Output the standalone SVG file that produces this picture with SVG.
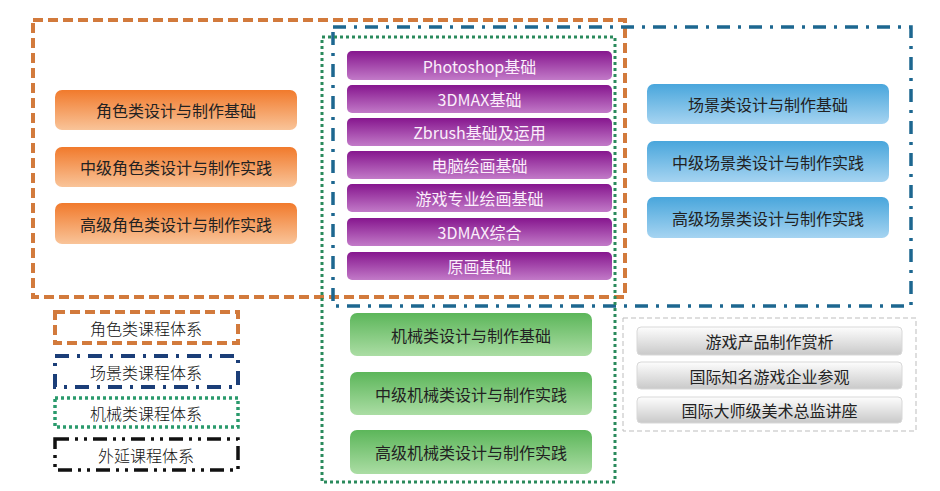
<svg xmlns="http://www.w3.org/2000/svg" width="940" height="491" viewBox="0 0 940 491">
<defs>
<linearGradient id="gOr" x1="0" y1="0" x2="0" y2="1"><stop offset="0" stop-color="#f17a2c"/><stop offset="1" stop-color="#f9c499"/></linearGradient>
<linearGradient id="gPu" x1="0" y1="0" x2="0" y2="1"><stop offset="0" stop-color="#86168e"/><stop offset="1" stop-color="#c27ac8"/></linearGradient>
<linearGradient id="gBl" x1="0" y1="0" x2="0" y2="1"><stop offset="0" stop-color="#49a6dc"/><stop offset="1" stop-color="#a6d4f1"/></linearGradient>
<linearGradient id="gGr" x1="0" y1="0" x2="0" y2="1"><stop offset="0" stop-color="#5cb65a"/><stop offset="1" stop-color="#abdda4"/></linearGradient>
<linearGradient id="gGy" x1="0" y1="0" x2="0" y2="1"><stop offset="0" stop-color="#fdfdfd"/><stop offset="1" stop-color="#c9c9c9"/></linearGradient>
</defs>
<style>
text{font-family:"Noto Sans CJK SC","Liberation Sans",sans-serif;font-size:16px;text-anchor:middle;dominant-baseline:central;fill:#222}
.pt{fill:#fbeefb}
.or{fill:url(#gOr)}
.pu{fill:url(#gPu)}
.bl{fill:url(#gBl)}
.gr{fill:url(#gGr)}
.gy{fill:url(#gGy);stroke:#d8d8d8;stroke-width:1}
.fOr{fill:none;stroke:#d27a3c;stroke-width:4;stroke-dasharray:10 5}
.fBl{fill:none;stroke:#1d6790;stroke-width:3.5;stroke-dasharray:13 8 3 8}
.fGr{fill:none;stroke:#2a8a5c;stroke-width:3;stroke-dasharray:3 3}
.fGy{fill:none;stroke:#bdbdbd;stroke-width:1;stroke-dasharray:5 3}
.lOr{fill:none;stroke:#d27a3c;stroke-width:4;stroke-dasharray:10 5}
.lBl{fill:none;stroke:#1b3e78;stroke-width:4;stroke-dasharray:14 8 3 8}
.lGr{fill:none;stroke:#2a9a6c;stroke-width:3.5;stroke-dasharray:3 3}
.lBk{fill:none;stroke:#111;stroke-width:3.5;stroke-dasharray:14 6 3 6 3 6}
.lt{font-size:16px;fill:#111;font-weight:300}
</style>
<g id="frames">
<rect class="fOr" x="33" y="20" width="592" height="277"/>
<rect class="fBl" x="333" y="27" width="578" height="279"/>
<rect class="fGr" x="322" y="37" width="293" height="445"/>
<rect class="fGy" x="623" y="318" width="293" height="113"/>
</g>
<g id="role">
<g id="r1"><rect class="or" x="55" y="90" width="242" height="40" rx="7"/><text x="176" y="110">角色类设计与制作基础</text></g>
<g id="r2"><rect class="or" x="55" y="147" width="242" height="40" rx="7"/><text x="176" y="167">中级角色类设计与制作实践</text></g>
<g id="r3"><rect class="or" x="55" y="203" width="242" height="41" rx="7"/><text x="176" y="223.5">高级角色类设计与制作实践</text></g>
</g>
<g id="base">
<g id="p1"><rect class="pu" x="347" y="51" width="265" height="29" rx="5"/><text class="pt" x="479.5" y="65.5">Photoshop基础</text></g>
<g id="p2"><rect class="pu" x="347" y="85" width="265" height="28" rx="5"/><text class="pt" x="479.5" y="99">3DMAX基础</text></g>
<g id="p3"><rect class="pu" x="347" y="118" width="265" height="28" rx="5"/><text class="pt" x="479.5" y="132">Zbrush基础及运用</text></g>
<g id="p4"><rect class="pu" x="347" y="151" width="265" height="28" rx="5"/><text class="pt" x="479.5" y="165">电脑绘画基础</text></g>
<g id="p5"><rect class="pu" x="347" y="184" width="265" height="28" rx="5"/><text class="pt" x="479.5" y="198">游戏专业绘画基础</text></g>
<g id="p6"><rect class="pu" x="347" y="218" width="265" height="28" rx="5"/><text class="pt" x="479.5" y="232">3DMAX综合</text></g>
<g id="p7"><rect class="pu" x="347" y="252" width="265" height="28" rx="5"/><text class="pt" x="479.5" y="266">原画基础</text></g>
</g>
<g id="scene">
<g id="s1"><rect class="bl" x="647" y="84" width="242" height="40" rx="7"/><text x="768" y="104">场景类设计与制作基础</text></g>
<g id="s2"><rect class="bl" x="647" y="141" width="242" height="41" rx="7"/><text x="768" y="161.5">中级场景类设计与制作实践</text></g>
<g id="s3"><rect class="bl" x="647" y="197" width="242" height="41" rx="7"/><text x="768" y="217.5">高级场景类设计与制作实践</text></g>
</g>
<g id="mech">
<g id="m1"><rect class="gr" x="350" y="313" width="242" height="43" rx="7"/><text x="471" y="334.5">机械类设计与制作基础</text></g>
<g id="m2"><rect class="gr" x="350" y="372" width="242" height="43" rx="7"/><text x="471" y="393.5">中级机械类设计与制作实践</text></g>
<g id="m3"><rect class="gr" x="350" y="430" width="242" height="44" rx="7"/><text x="471" y="452">高级机械类设计与制作实践</text></g>
</g>
<g id="ext">
<g id="e1"><rect class="gy" x="637" y="327" width="265" height="28" rx="4"/><text x="769.5" y="341">游戏产品制作赏析</text></g>
<g id="e2"><rect class="gy" x="637" y="362" width="265" height="27" rx="4"/><text x="769.5" y="375.5">国际知名游戏企业参观</text></g>
<g id="e3"><rect class="gy" x="637" y="397" width="265" height="26" rx="4"/><text x="769.5" y="410">国际大师级美术总监讲座</text></g>
</g>
<g id="legend">
<g id="lg1"><rect class="lOr" x="55" y="312" width="183" height="31"/><text class="lt" x="146" y="327.5">角色类课程体系</text></g>
<g id="lg2"><rect class="lBl" x="55" y="356" width="183" height="31"/><text class="lt" x="146" y="371.5">场景类课程体系</text></g>
<g id="lg3"><rect class="lGr" x="55" y="398" width="183" height="29"/><text class="lt" x="146" y="412.5">机械类课程体系</text></g>
<g id="lg4"><rect class="lBk" x="55" y="439" width="183" height="31"/><text class="lt" x="146" y="454.5">外延课程体系</text></g>
</g>
</svg>
